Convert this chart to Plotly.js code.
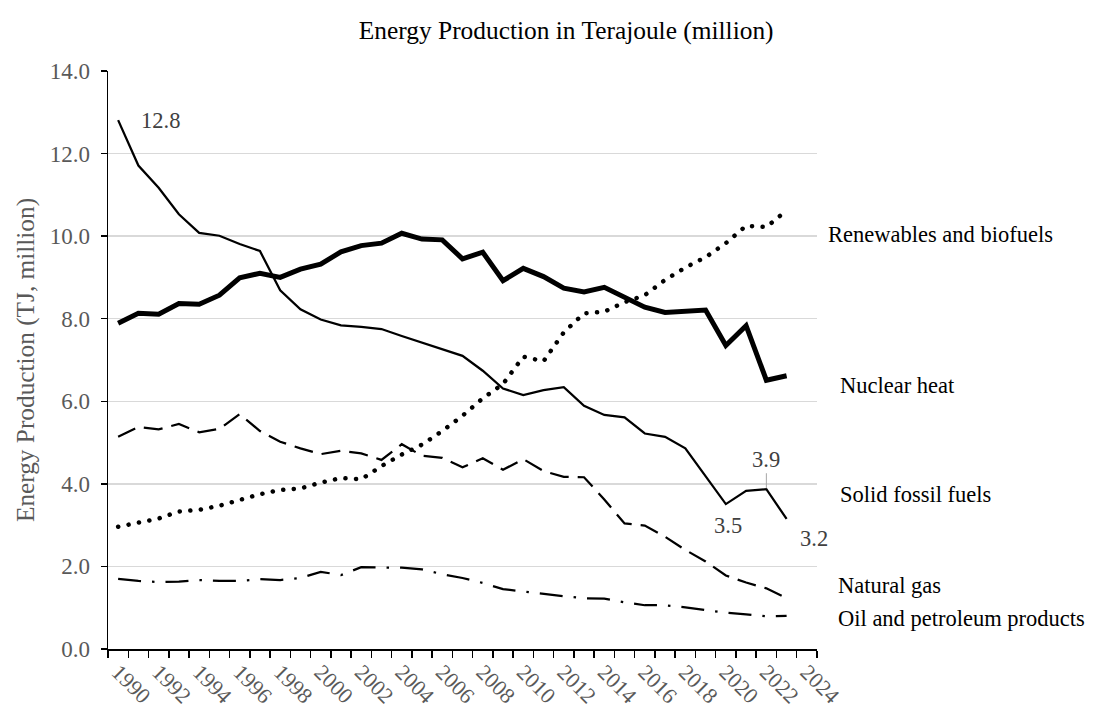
<!DOCTYPE html>
<html>
<head>
<meta charset="utf-8">
<script src="https://cdn.plot.ly/plotly-3.0.1.min.js"></script>
<style>html,body{margin:0;padding:0;background:#fff;}#chart{width:1108px;height:721px;}</style>
</head>
<body>
<div id="chart"></div>
<script>
const years = [1990,1991,1992,1993,1994,1995,1996,1997,1998,1999,2000,2001,2002,2003,2004,2005,2006,2007,2008,2009,2010,2011,2012,2013,2014,2015,2016,2017,2018,2019,2020,2021,2022,2023];
const solidFossil = [12.81,11.71,11.17,10.53,10.08,10.01,9.81,9.64,8.69,8.23,7.98,7.84,7.80,7.75,7.58,7.42,7.27,7.10,6.74,6.31,6.15,6.27,6.34,5.89,5.67,5.61,5.22,5.14,4.86,4.19,3.51,3.83,3.87,3.15];
const nuclear = [7.89,8.13,8.11,8.37,8.35,8.57,8.99,9.10,9.00,9.20,9.32,9.62,9.77,9.83,10.07,9.93,9.91,9.45,9.61,8.92,9.22,9.02,8.74,8.65,8.76,8.53,8.28,8.15,8.17,8.21,7.35,7.83,6.51,6.62];
const renewables = [2.96,3.07,3.16,3.33,3.37,3.47,3.62,3.75,3.85,3.89,4.03,4.14,4.11,4.43,4.71,4.95,5.28,5.65,6.07,6.42,7.08,6.97,7.67,8.13,8.17,8.40,8.57,8.94,9.24,9.49,9.83,10.25,10.22,10.62];
const naturalGas = [5.14,5.38,5.32,5.45,5.25,5.33,5.69,5.28,5.02,4.86,4.72,4.80,4.74,4.58,4.96,4.68,4.63,4.40,4.62,4.34,4.60,4.31,4.17,4.16,3.62,3.04,2.99,2.72,2.40,2.12,1.78,1.61,1.47,1.23];
const oil = [1.70,1.65,1.62,1.63,1.67,1.65,1.65,1.69,1.67,1.72,1.87,1.79,1.98,1.98,1.97,1.93,1.81,1.72,1.60,1.45,1.39,1.33,1.28,1.23,1.22,1.13,1.06,1.06,1.01,0.94,0.88,0.84,0.79,0.80];
const tickYears = [1990,1992,1994,1996,1998,2000,2002,2004,2006,2008,2010,2012,2014,2016,2018,2020,2022,2024];
const tickLabels = tickYears.map(String);
const seriesNames = ["Renewables and biofuels","Nuclear heat","Solid fossil fuels","Natural gas","Oil and petroleum products"];

const FONT = "Liberation Serif, Times New Roman, serif";
const GRAY = "#595959";

const traces = [
  {x: years, y: solidFossil, name: seriesNames[2], mode: "lines", line: {color: "#000", width: 2.25}},
  {x: years, y: nuclear, name: seriesNames[1], mode: "lines", line: {color: "#000", width: 5}},
  {x: years, y: renewables, name: seriesNames[0], mode: "lines", line: {color: "#000", width: 4.5, dash: "4.5px,6.5px"}},
  {x: years, y: naturalGas, name: seriesNames[3], mode: "lines", line: {color: "#000", width: 2.25, dash: "19px,9px"}},
  {x: years, y: oil, name: seriesNames[4], mode: "lines", line: {color: "#000", width: 2.25, dash: "23px,11px,2.5px,11px"}}
];

const labelY = [10.05, 6.39, 3.75, 1.55, 0.73];
const labelX = [1.0127, 1.0296, 1.0296, 1.0268, 1.0268];
const annotations = seriesNames.map((n, i) => ({
  x: labelX[i], y: labelY[i], xref: "paper", yref: "y", text: n, showarrow: false,
  xanchor: "left", yanchor: "middle", font: {family: FONT, size: 22.5, color: "#000"}
}));
const valFont = {family: FONT, size: 22.5, color: "#404040"};
annotations.push({x: 1992.1, y: 12.79, xref: "x", yref: "y", text: "12.8", showarrow: false, font: valFont});
annotations.push({x: 2020.1, y: 3.0, xref: "x", yref: "y", text: "3.5", showarrow: false, font: valFont});
annotations.push({x: 2024.37, y: 2.67, xref: "x", yref: "y", text: "3.2", showarrow: false, font: valFont});
annotations.push({x: 2022, y: 3.87, xref: "x", yref: "y", text: "3.9", showarrow: true, arrowhead: 0,
  arrowwidth: 1, arrowcolor: "#a6a6a6", ax: 0, ay: -30, standoff: 1, font: valFont});

const layout = {
  width: 1108, height: 721,
  margin: {l: 108, r: 291, t: 71, b: 72, pad: 0},
  paper_bgcolor: "#fff", plot_bgcolor: "#fff",
  showlegend: false,
  font: {family: FONT, color: GRAY},
  title: {text: "Energy Production in Terajoule (million)", font: {family: FONT, size: 25.4, color: "#000"},
    x: 0.511, xref: "container", xanchor: "center", y: 1 - 30/721, yref: "container", yanchor: "middle"},
  xaxis: {
    range: [1989.5, 2024.5], tickmode: "array", tickvals: tickYears, ticktext: tickLabels,
    tickangle: 45, ticks: "", showgrid: false, zeroline: false,
    showline: true, linecolor: "#000", linewidth: 1.5,
    tickfont: {family: FONT, size: 22, color: GRAY},
    minor: {tickmode: "linear", tick0: 1989.5, dtick: 1, ticks: "outside", ticklen: 7, tickcolor: "#000", tickwidth: 1.5, showgrid: false},
    automargin: false
  },
  yaxis: {
    range: [0, 14], dtick: 2, tick0: 0, tickformat: ".1f",
    showgrid: true, gridcolor: "#d9d9d9", gridwidth: 1.5, zeroline: false,
    showline: true, linecolor: "#000", linewidth: 1.5,
    ticks: "outside", ticklen: 6, tickcolor: "#000", tickwidth: 1.5,
    ticklabelstandoff: 6,
    tickfont: {family: FONT, size: 23, color: GRAY},
    title: {text: "Energy Production (TJ, million)", font: {family: FONT, size: 25.3, color: GRAY}, standoff: 8},
    automargin: false
  },
  annotations: annotations
};

Plotly.newPlot("chart", traces, layout, {staticPlot: true, displayModeBar: false}).then(function (gd) {
  // round dots for the renewables line
  const paths = gd.querySelectorAll(".scatterlayer .trace");
  if (paths[2]) {
    const p = paths[2].querySelector("path.js-line");
    if (p) {
      p.style.strokeLinecap = "round";
      p.style.strokeDasharray = "0.1px,10.5px";
    }
  }
});
</script>
</body>
</html>
